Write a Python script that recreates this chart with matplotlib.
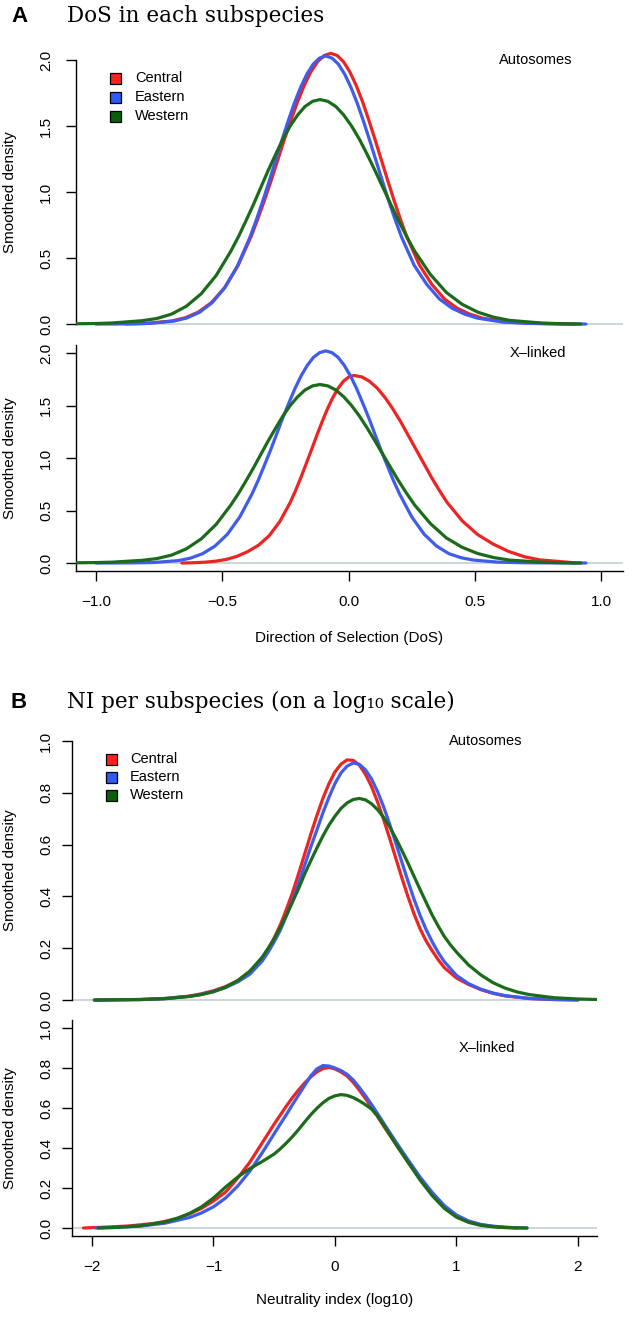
import matplotlib
matplotlib.use("Agg")
import matplotlib.pyplot as plt
from matplotlib.patches import Rectangle

plt.rcParams['font.family'] = ['Liberation Sans', 'DejaVu Sans']

# ---------------- data ----------------
subspecies = ["Central", "Eastern", "Western"]
line_colors = ["#EC2424", "#3F5CEB", "#1B6B1B"]
legend_fill = ["#FF2020", "#2D5BF5", "#0B5E0B"]

# Panel A, autosomes (DoS)
dos_auto_central_x = [-0.88, -0.805, -0.70, -0.6475, -0.595, -0.5425, -0.49, -0.4375, -0.385, -0.359, -0.3325, -0.306, -0.28, -0.254, -0.2275, -0.201, -0.175, -0.149, -0.1225, -0.096, -0.07, -0.045, -0.02, 0.005, 0.03, 0.055, 0.08, 0.105, 0.13, 0.155, 0.18, 0.205, 0.23, 0.28, 0.33, 0.38, 0.43, 0.48, 0.53, 0.63, 0.73, 0.83, 0.9]
dos_auto_central_y = [0.0005, 0.0045, 0.023, 0.047, 0.090, 0.163, 0.277, 0.443, 0.666, 0.797, 0.939, 1.089, 1.243, 1.398, 1.547, 1.687, 1.809, 1.911, 1.987, 2.034, 2.050, 2.034, 1.987, 1.911, 1.809, 1.687, 1.547, 1.398, 1.243, 1.089, 0.939, 0.797, 0.666, 0.45, 0.30, 0.19, 0.12, 0.075, 0.045, 0.015, 0.005, 0.0015, 0.0]
dos_auto_eastern_x = [-1.00, -0.89, -0.79, -0.69, -0.64, -0.59, -0.54, -0.49, -0.44, -0.39, -0.365, -0.34, -0.315, -0.29, -0.265, -0.24, -0.215, -0.19, -0.165, -0.14, -0.115, -0.09, -0.065, -0.04, -0.015, 0.01, 0.035, 0.06, 0.085, 0.11, 0.135, 0.16, 0.185, 0.21, 0.26, 0.31, 0.36, 0.41, 0.46, 0.51, 0.61, 0.71, 0.81, 0.94]
dos_auto_eastern_y = [0.0, 0.0007, 0.0044, 0.023, 0.046, 0.089, 0.162, 0.275, 0.439, 0.659, 0.789, 0.929, 1.078, 1.231, 1.384, 1.532, 1.670, 1.791, 1.892, 1.968, 2.014, 2.030, 2.014, 1.968, 1.892, 1.791, 1.670, 1.532, 1.384, 1.231, 1.078, 0.929, 0.789, 0.659, 0.445, 0.30, 0.19, 0.12, 0.075, 0.045, 0.015, 0.005, 0.0015, 0.0]
dos_auto_western_x = [-1.08, -1.0, -0.936, -0.818, -0.759, -0.701, -0.642, -0.583, -0.524, -0.466, -0.436, -0.407, -0.377, -0.348, -0.319, -0.289, -0.26, -0.231, -0.201, -0.172, -0.142, -0.113, -0.082, -0.0505, -0.0193, 0.012, 0.0433, 0.0745, 0.1058, 0.137, 0.1683, 0.1995, 0.2308, 0.262, 0.3245, 0.387, 0.4495, 0.512, 0.5745, 0.637, 0.762, 0.85, 0.92]
dos_auto_western_y = [0.002, 0.004, 0.008, 0.025, 0.042, 0.075, 0.135, 0.23, 0.368, 0.552, 0.661, 0.778, 0.903, 1.031, 1.159, 1.283, 1.399, 1.5, 1.584, 1.648, 1.687, 1.70, 1.687, 1.648, 1.584, 1.5, 1.399, 1.283, 1.159, 1.031, 0.903, 0.778, 0.661, 0.552, 0.375, 0.24, 0.15, 0.09, 0.052, 0.028, 0.008, 0.002, 0.0]

# Panel A, X-linked (DoS)
dos_x_central_x = [-0.66, -0.62, -0.566, -0.524, -0.482, -0.44, -0.398, -0.356, -0.314, -0.272, -0.23, -0.209, -0.188, -0.167, -0.146, -0.125, -0.104, -0.083, -0.062, -0.041, -0.02, 0.001, 0.022, 0.053, 0.083, 0.114, 0.1445, 0.175, 0.206, 0.236, 0.267, 0.298, 0.328, 0.359, 0.3895, 0.451, 0.512, 0.573, 0.6345, 0.696, 0.757, 0.8795, 0.9]
dos_x_central_y = [0.0, 0.002, 0.008, 0.018, 0.035, 0.065, 0.11, 0.17, 0.26, 0.395, 0.58, 0.694, 0.818, 0.949, 1.083, 1.218, 1.348, 1.470, 1.576, 1.665, 1.731, 1.772, 1.786, 1.772, 1.731, 1.665, 1.576, 1.470, 1.348, 1.218, 1.083, 0.949, 0.818, 0.694, 0.580, 0.40, 0.27, 0.18, 0.11, 0.06, 0.03, 0.005, 0.0]
dos_x_eastern_x = [-1.0, -0.87, -0.7725, -0.675, -0.626, -0.5775, -0.529, -0.48, -0.431, -0.3825, -0.358, -0.334, -0.309, -0.285, -0.261, -0.236, -0.212, -0.1875, -0.163, -0.139, -0.114, -0.09, -0.066, -0.041, -0.017, 0.0075, 0.032, 0.056, 0.081, 0.105, 0.129, 0.154, 0.178, 0.2025, 0.251, 0.30, 0.349, 0.3975, 0.446, 0.495, 0.5925, 0.7, 0.94]
dos_x_eastern_y = [0.0, 0.0007, 0.0044, 0.0224, 0.046, 0.089, 0.161, 0.273, 0.437, 0.656, 0.785, 0.925, 1.073, 1.225, 1.378, 1.525, 1.662, 1.783, 1.883, 1.958, 2.004, 2.020, 2.004, 1.958, 1.883, 1.783, 1.662, 1.525, 1.378, 1.225, 1.073, 0.925, 0.785, 0.656, 0.437, 0.273, 0.161, 0.089, 0.05, 0.028, 0.008, 0.002, 0.0]
dos_x_western_x = [-1.08, -1.0, -0.936, -0.818, -0.759, -0.701, -0.642, -0.583, -0.524, -0.466, -0.436, -0.407, -0.377, -0.348, -0.319, -0.289, -0.26, -0.231, -0.201, -0.172, -0.142, -0.113, -0.082, -0.0505, -0.0193, 0.012, 0.0433, 0.0745, 0.1058, 0.137, 0.1683, 0.1995, 0.2308, 0.262, 0.3245, 0.387, 0.4495, 0.512, 0.5745, 0.637, 0.762, 0.85, 0.92]
dos_x_western_y = [0.002, 0.004, 0.008, 0.025, 0.042, 0.075, 0.135, 0.23, 0.368, 0.552, 0.661, 0.778, 0.903, 1.031, 1.159, 1.283, 1.399, 1.5, 1.584, 1.648, 1.687, 1.70, 1.687, 1.648, 1.584, 1.5, 1.399, 1.283, 1.159, 1.031, 0.903, 0.778, 0.661, 0.552, 0.375, 0.24, 0.15, 0.09, 0.052, 0.028, 0.008, 0.002, 0.0]

# Panel B, autosomes (log10 NI)
ni_grid = [-1.98, -1.8, -1.6, -1.4, -1.2, -1.1, -1.0, -0.9, -0.8, -0.7, -0.6, -0.55, -0.5, -0.45, -0.4, -0.35, -0.3, -0.25, -0.2, -0.15, -0.1, -0.05, 0.0, 0.05, 0.1, 0.15, 0.2, 0.25, 0.3, 0.35, 0.4, 0.45, 0.5, 0.55, 0.6, 0.65, 0.7, 0.75, 0.8, 0.85, 0.9, 1.0, 1.1, 1.2, 1.3, 1.4, 1.6, 1.8, 2.0]
ni_auto_central_y = [0.0, 0.001, 0.002, 0.006, 0.015, 0.024, 0.036, 0.052, 0.075, 0.11, 0.16, 0.195, 0.24, 0.29, 0.35, 0.414, 0.487, 0.563, 0.639, 0.711, 0.778, 0.835, 0.881, 0.911, 0.927, 0.925, 0.907, 0.872, 0.825, 0.765, 0.697, 0.624, 0.548, 0.472, 0.400, 0.333, 0.275, 0.228, 0.19, 0.155, 0.125, 0.085, 0.06, 0.04, 0.026, 0.016, 0.006, 0.002, 0.0005]
ni_auto_eastern_y = [0.0, 0.001, 0.002, 0.006, 0.014, 0.022, 0.033, 0.048, 0.07, 0.10, 0.15, 0.185, 0.225, 0.27, 0.325, 0.385, 0.45, 0.52, 0.59, 0.655, 0.722, 0.782, 0.836, 0.877, 0.903, 0.915, 0.910, 0.889, 0.854, 0.805, 0.746, 0.679, 0.607, 0.533, 0.460, 0.390, 0.327, 0.272, 0.225, 0.183, 0.148, 0.095, 0.063, 0.042, 0.027, 0.017, 0.006, 0.002, 0.0005]
ni_auto_western_x = [-1.98, -1.8, -1.6, -1.4, -1.2, -1.1, -1.0, -0.9, -0.8, -0.7, -0.6, -0.55, -0.5, -0.45, -0.4, -0.35, -0.3, -0.25, -0.2, -0.15, -0.1, -0.05, 0.0, 0.05, 0.1, 0.15, 0.2, 0.25, 0.3, 0.35, 0.4, 0.45, 0.5, 0.55, 0.6, 0.65, 0.7, 0.75, 0.8, 0.85, 0.9, 0.95, 1.0, 1.1, 1.2, 1.3, 1.4, 1.5, 1.6, 1.8, 2.0, 2.16]
ni_auto_western_y = [0.0, 0.001, 0.002, 0.005, 0.014, 0.021, 0.032, 0.05, 0.075, 0.112, 0.165, 0.20, 0.237, 0.28, 0.327, 0.378, 0.43, 0.486, 0.537, 0.586, 0.633, 0.675, 0.710, 0.740, 0.761, 0.774, 0.778, 0.773, 0.758, 0.735, 0.705, 0.668, 0.625, 0.578, 0.529, 0.478, 0.427, 0.377, 0.328, 0.285, 0.245, 0.213, 0.185, 0.135, 0.097, 0.067, 0.046, 0.031, 0.021, 0.009, 0.004, 0.002]

# Panel B, X-linked (log10 NI)
ni_x_central_x = [-2.07, -1.9, -1.7, -1.5, -1.4, -1.3, -1.2, -1.1, -1.0, -0.9, -0.8, -0.7, -0.6, -0.5, -0.45, -0.4, -0.35, -0.3, -0.25, -0.2, -0.15, -0.1, -0.05, 0.0, 0.05, 0.1, 0.15, 0.2, 0.25, 0.3, 0.35, 0.4, 0.45, 0.5, 0.6, 0.7, 0.8, 0.9, 1.0, 1.1, 1.2, 1.3, 1.4, 1.5]
ni_x_central_y = [0.0, 0.004, 0.01, 0.022, 0.033, 0.048, 0.07, 0.098, 0.135, 0.18, 0.25, 0.33, 0.425, 0.52, 0.565, 0.61, 0.652, 0.69, 0.725, 0.755, 0.78, 0.797, 0.803, 0.795, 0.78, 0.76, 0.728, 0.69, 0.648, 0.605, 0.558, 0.51, 0.465, 0.42, 0.33, 0.245, 0.17, 0.105, 0.06, 0.032, 0.016, 0.008, 0.003, 0.0]
ni_x_eastern_x = [-1.97, -1.8, -1.6, -1.4, -1.2, -1.1, -1.0, -0.9, -0.8, -0.7, -0.6, -0.5, -0.45, -0.4, -0.35, -0.3, -0.25, -0.2, -0.15, -0.1, -0.05, 0.0, 0.05, 0.1, 0.15, 0.2, 0.25, 0.3, 0.35, 0.4, 0.45, 0.5, 0.6, 0.7, 0.8, 0.9, 1.0, 1.1, 1.2, 1.3, 1.4, 1.5, 1.58]
ni_x_eastern_y = [0.0, 0.003, 0.01, 0.024, 0.052, 0.075, 0.106, 0.15, 0.21, 0.285, 0.375, 0.472, 0.52, 0.567, 0.617, 0.665, 0.712, 0.76, 0.795, 0.812, 0.81, 0.80, 0.787, 0.768, 0.74, 0.703, 0.662, 0.618, 0.572, 0.525, 0.478, 0.432, 0.342, 0.255, 0.178, 0.112, 0.065, 0.035, 0.018, 0.009, 0.004, 0.001, 0.0]
ni_x_western_x = [-1.95, -1.8, -1.6, -1.4, -1.3, -1.2, -1.1, -1.0, -0.9, -0.8, -0.7, -0.6, -0.5, -0.45, -0.4, -0.35, -0.3, -0.25, -0.2, -0.15, -0.1, -0.05, 0.0, 0.05, 0.1, 0.15, 0.2, 0.25, 0.3, 0.35, 0.4, 0.45, 0.5, 0.6, 0.7, 0.8, 0.9, 1.0, 1.1, 1.2, 1.3, 1.4, 1.58]
ni_x_western_y = [0.0, 0.003, 0.011, 0.03, 0.048, 0.072, 0.105, 0.15, 0.205, 0.255, 0.297, 0.332, 0.37, 0.396, 0.425, 0.457, 0.492, 0.53, 0.566, 0.598, 0.626, 0.648, 0.661, 0.667, 0.663, 0.652, 0.636, 0.617, 0.595, 0.56, 0.515, 0.468, 0.42, 0.33, 0.24, 0.162, 0.098, 0.054, 0.028, 0.013, 0.006, 0.002, 0.0]

dos_ticks = [-1.0, -0.5, 0.0, 0.5, 1.0]
dos_yticks = [0.0, 0.5, 1.0, 1.5, 2.0]
ni_ticks = [-2, -1, 0, 1, 2]
ni_yticks = [0.0, 0.2, 0.4, 0.6, 0.8, 1.0]

# ---------------- figure ----------------
W, H = 633, 1327
fig = plt.figure(figsize=(W / 100, H / 100), dpi=100)
fig.patch.set_facecolor("white")

def px_axes(left, right, top, bottom):
    return fig.add_axes([left / W, 1 - bottom / H, (right - left) / W, (bottom - top) / H])

def fx(x):
    return x / W

def fy(y):
    return 1 - y / H

TICK_FS = 11
LABEL_FS = 11

def style(ax, xlim, ylim, yticks, ytl, bottom_axis, xticks=None, xtl=None, ypad=9.4):
    ax.set_xlim(*xlim)
    ax.set_ylim(*ylim)
    ax.set_facecolor("none")
    for s in ["top", "right"]:
        ax.spines[s].set_visible(False)
    ax.spines["left"].set_linewidth(1.0)
    ax.set_yticks(yticks)
    ax.set_yticklabels(ytl, fontsize=TICK_FS, rotation=90, va="center")
    ax.tick_params(axis="y", length=7, width=1.0, pad=ypad, direction="out")
    if bottom_axis:
        ax.spines["bottom"].set_linewidth(1.0)
        ax.set_xticks(xticks)
        ax.set_xticklabels(xtl, fontsize=TICK_FS)
        ax.tick_params(axis="x", length=7, width=1.0, pad=10, direction="out")
    else:
        ax.spines["bottom"].set_visible(False)
        ax.spines["left"].set_bounds(yticks[0], yticks[-1])
        ax.set_xticks([])
    ax.axhline(0, color="#BFCBD0", lw=1.1, zorder=1)

def draw(ax, series):
    for (xs, ys), c in zip(series, line_colors):
        ax.plot(xs, ys, color=c, lw=2.3, solid_capstyle="round", zorder=3)

def legend(sq_x, text_x, rows):
    for (c, name), ry in zip(zip(legend_fill, subspecies), rows):
        fig.patches.append(Rectangle((fx(sq_x - 5.5), fy(ry + 5.5)), 11 / W, 11 / H,
                                     transform=fig.transFigure, facecolor=c,
                                     edgecolor="black", lw=0.9))
        fig.text(fx(text_x), fy(ry), name, fontsize=10.5, ha="left", va="center")

def ylabel(ax, left, right, xc):
    ax.set_ylabel("Smoothed density", fontsize=LABEL_FS)
    ax.yaxis.set_label_coords((xc - left) / (right - left), 0.5)
    ax.yaxis.label.set_va("center")

dos_xlim = (-1.0792, 1.0871)
ni_xlim = (-2.1646, 2.1564)
dos_ytl = ["0.0", "0.5", "1.0", "1.5", "2.0"]
ni_ytl = ["0.0", "0.2", "0.4", "0.6", "0.8", "1.0"]

# ---- Panel A top
axA1 = px_axes(76, 623, 49.4, 334.6)
style(axA1, dos_xlim, (-0.08, 2.08), dos_yticks, dos_ytl, False, ypad=9.4)
draw(axA1, [(dos_auto_central_x, dos_auto_central_y),
            (dos_auto_eastern_x, dos_auto_eastern_y),
            (dos_auto_western_x, dos_auto_western_y)])
axA1.text(0.74, 2.0, "Autosomes", fontsize=10.5, ha="center", va="center")
ylabel(axA1, 76, 623, 10)

# ---- Panel A bottom
axA2 = px_axes(76, 623, 344.6, 571.4)
style(axA2, dos_xlim, (-0.08, 2.08), dos_yticks, dos_ytl, True,
      dos_ticks, ["\u22121.0", "\u22120.5", "0.0", "0.5", "1.0"], ypad=9.4)
draw(axA2, [(dos_x_central_x, dos_x_central_y),
            (dos_x_eastern_x, dos_x_eastern_y),
            (dos_x_western_x, dos_x_western_y)])
axA2.text(0.75, 2.0, "X\u2013linked", fontsize=10.5, ha="center", va="center")
ylabel(axA2, 76, 623, 10)
axA2.set_xlabel("Direction of Selection (DoS)", fontsize=LABEL_FS)
axA2.xaxis.set_label_coords(0.5, (571.4 - 638) / (571.4 - 344.6))
axA2.xaxis.label.set_va("center")

# ---- Panel B top
axB1 = px_axes(72, 597, 730.6, 1010.4)
style(axB1, ni_xlim, (-0.04, 1.04), ni_yticks, ni_ytl, False, ypad=6.5)
draw(axB1, [(ni_grid, ni_auto_central_y),
            (ni_grid, ni_auto_eastern_y),
            (ni_auto_western_x, ni_auto_western_y)])
axB1.text(1.24, 1.0, "Autosomes", fontsize=10.5, ha="center", va="center")
ylabel(axB1, 72, 597, 10)

# ---- Panel B bottom
axB2 = px_axes(72, 597, 1020, 1236)
style(axB2, ni_xlim, (-0.04, 1.04), ni_yticks, ni_ytl, True,
      ni_ticks, ["\u22122", "\u22121", "0", "1", "2"], ypad=6.5)
draw(axB2, [(ni_x_central_x, ni_x_central_y),
            (ni_x_eastern_x, ni_x_eastern_y),
            (ni_x_western_x, ni_x_western_y)])
axB2.text(1.25, 0.9, "X\u2013linked", fontsize=10.5, ha="center", va="center")
ylabel(axB2, 72, 597, 10)
axB2.set_xlabel("Neutrality index (log10)", fontsize=LABEL_FS)
axB2.xaxis.set_label_coords(0.5, (1236 - 1300) / (1236 - 1020))
axB2.xaxis.label.set_va("center")

# legends
legend(115, 135, [78, 97, 116])
legend(112, 130, [759, 777, 795])

# titles
serif = ["DejaVu Serif"]
fig.text(fx(19), fy(16), "A", fontsize=16, fontweight="bold", ha="center", va="center")
fig.text(fx(67), fy(16), "DoS in each subspecies", fontsize=15.5, family=serif,
         ha="left", va="center")
fig.text(fx(18.5), fy(702), "B", fontsize=16, fontweight="bold", ha="center", va="center")
fig.text(fx(67), fy(702), "NI per subspecies (on a log\u2081\u2080 scale)", fontsize=15.5,
         family=serif, ha="left", va="center")

fig.savefig("out.png", dpi=100, facecolor="white")
